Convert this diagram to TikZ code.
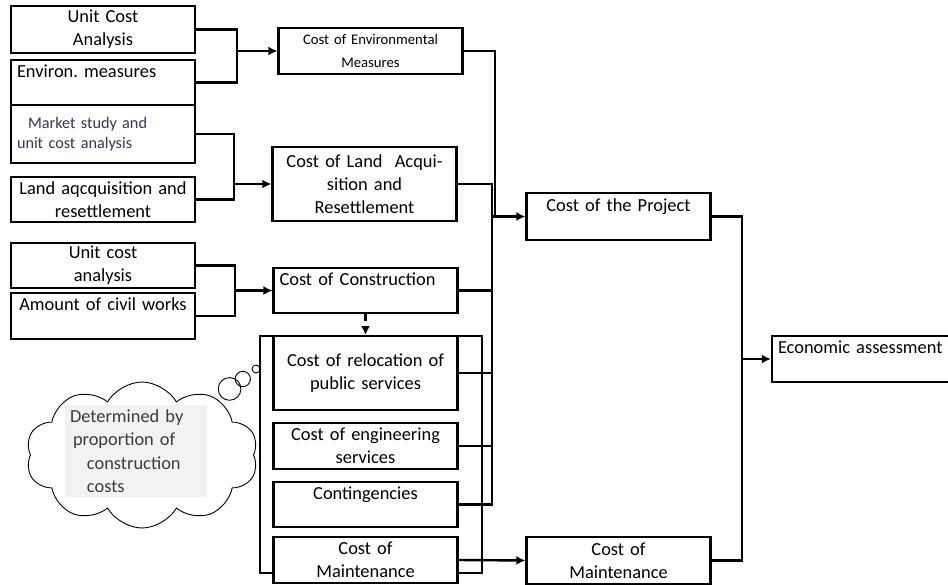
\documentclass[tikz,border=0pt]{standalone}
\usepackage{fontspec}
\setmainfont{Carlito}
\usetikzlibrary{arrows.meta, shapes.symbols, shapes.callouts}
\frenchspacing

\begin{document}
\begin{tikzpicture}[x=1pt, y=-1pt,
    box/.style={draw=black, fill=white, line width=2.2pt, rectangle, inner xsep=6pt, inner ysep=0pt,
        text width=172pt, align=center, font=\fontsize{18.4}{23}\selectfont},
    link/.style={line width=2.4pt},
    arr/.style={link, -{Latex[length=9pt, width=9pt]}}]
    \definecolor{mktText}{HTML}{2E3B50}
    \definecolor{noteText}{HTML}{3C3C3C}
    \definecolor{noteFill}{HTML}{F2F2F2}

    \useasboundingbox (0,0) rectangle (948,584);

    % Inputs on the left
    \node[box, minimum height=47pt] (ucaEnv) at (103,29.5) {Unit Cost\\Analysis};
    \node[box, minimum height=45pt, align=left] (envMeasures) at (103,82.5) {Environ. measures\\~};
    \node[box, minimum height=58pt, align=left, text=mktText, font=\fontsize{16.2}{20}\selectfont] (market) at (103,134) {\hspace*{11pt}Market study and\\unit cost analysis};
    \node[box, minimum height=45pt] (landInput) at (103,199.5) {Land aqcquisition and\\resettlement};
    \node[box, minimum height=45pt] (ucaCons) at (103,265.5) {Unit cost\\analysis};
    \node[box, minimum height=46pt] (civilWorks) at (103,316) {Amount of civil works\\~};

    % Cost items in the middle
    \node[box, minimum height=46pt, font=\fontsize{14.7}{23}\selectfont] (costEnv) at (370.5,51) {Cost of Environmental\\Measures};
    \node[box, minimum height=74pt] (costLand) at (364.5,184) {Cost of Land~ Acqui-\\sition and\\Resettlement};
    \node[box, minimum height=45pt, align=left] (costCons) at (365.5,290.5) {Cost of Construction\\~};

    % Group of items taken as a proportion of construction
    \node[draw, line width=2pt, minimum width=222pt, minimum height=237pt] (group) at (371,454.5) {};
    \node[box, minimum height=74pt] (relocation) at (365.5,373) {Cost of relocation of\\public services};
    \node[box, minimum height=46pt] (engineering) at (365.5,446) {Cost of engineering\\services};
    \node[box, minimum height=45pt] (contingency) at (365.5,504.5) {Contingencies\\~};
    \node[box, minimum height=46pt] (maintLeft) at (365.5,560) {Cost of\\Maintenance};

    % Totals on the right
    \node[box, minimum height=47pt] (project) at (618.5,216.5) {Cost of the Project\\~};
    \node[box, minimum height=47pt] (maintRight) at (618.5,560.5) {Cost of\\Maintenance};
    \node[box, minimum height=46pt, text width=178pt, align=left] (economic) at (867,359) {Economic assessment\\~};

    % Thought cloud
    \node[cloud callout, draw, line width=0.9pt, cloud puffs=10, cloud puff arc=120, aspect=1.6,
        minimum width=232pt, minimum height=146pt, callout absolute pointer={(256,369)},
        callout pointer start size=40pt and 30pt, callout pointer end size=10pt and 8pt,
        callout pointer segments=3] (thought) at (142,455) {};
    \node[fill=noteFill, text=noteText, minimum width=142pt, minimum height=92pt, inner xsep=5pt,
        text width=132pt, align=left, font=\fontsize{18.4}{23.5}\selectfont] (note) at (136,451)
        {Determined by\\\hspace*{3pt}proportion of\\\hspace*{17pt}construction\\\hspace*{17pt}costs};

    % Junctions
    \coordinate (jEnv) at (237,51);
    \coordinate (jLand) at (234,184);
    \coordinate (jCons) at (235,290.5);
    \coordinate (bus) at (492,0);
    \coordinate (busEnv) at (495,0);
    \coordinate (jEco) at (742,359);

    % Connectors into the cost items
    \draw[link] (ucaEnv.east) -| (jEnv) |- (envMeasures.east);
    \draw[arr] (jEnv) -- (costEnv.west);
    \draw[link] (market.east) -| (jLand) |- (landInput.east);
    \draw[arr] (jLand) -- (costLand.west);
    \draw[link] (ucaCons.east) -| (jCons) |- (civilWorks.east);
    \draw[arr] (jCons) -- (costCons.west);
    \draw[link, dashed, dash pattern=on 7pt off 6pt, -{Latex[length=9pt, width=9pt]}] (costCons.south) -- (costCons.south |- group.north);

    % Collect the costs of the project
    \draw[link] (costEnv.east) -| (busEnv |- project.west);
    \draw[link] (costLand.east) -| (bus |- contingency.east) -- (contingency.east);
    \foreach \n in {costCons, relocation, engineering}
        \draw[link] (\n.east) -- (bus |- \n.east);
    \draw[arr] (bus |- project.west) -- (project.west);

    % Maintenance and assessment
    \draw[arr] (maintLeft.east) -- (maintRight.west);
    \draw[link] (project.east) -| (jEco) |- (maintRight.east);
    \draw[arr] (jEco) -- (economic.west);

\end{tikzpicture}
\end{document}
